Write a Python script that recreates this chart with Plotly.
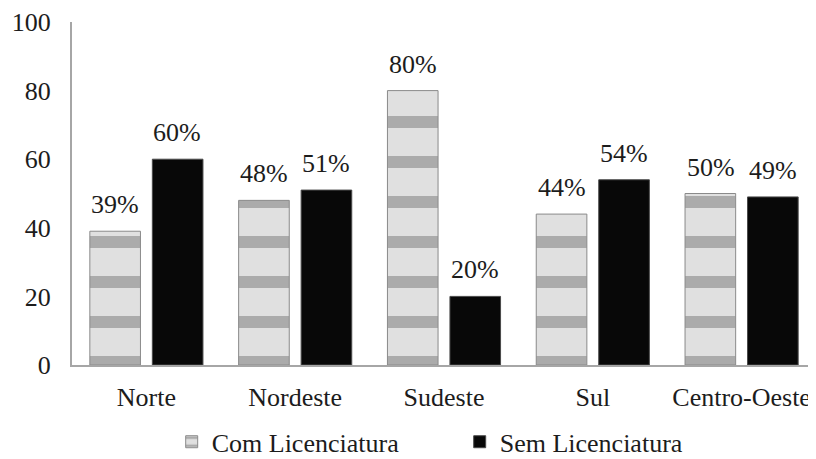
import plotly.graph_objects as go

regioes = ["Norte", "Nordeste", "Sudeste", "Sul", "Centro-Oeste"]
com_licenciatura = [39, 48, 80, 44, 50]
sem_licenciatura = [60, 51, 20, 54, 49]
y_ticks = [0, 20, 40, 60, 80, 100]
series_names = ["Com Licenciatura", "Sem Licenciatura"]

FONT = "Liberation Serif"
FS = 26
TXT = "#1c1c1c"

fig = go.Figure()
fig.add_trace(go.Bar(
    name=series_names[0], x=regioes, y=com_licenciatura,
    marker=dict(color="#d6d6d6", line=dict(color="#8a8a8a", width=1),
                pattern=dict(shape="-", fgcolor="#767676", bgcolor="#e0e0e0",
                             size=40, solidity=0.3, fillmode="overlay")),
))
fig.add_trace(go.Bar(
    name=series_names[1], x=regioes, y=sem_licenciatura,
    marker=dict(color="#080808", line=dict(color="#4a4a4a", width=1)),
))

# value labels above each bar (anchored at the data value)
for vals, shift in ((com_licenciatura, -31), (sem_licenciatura, 31)):
    for r, v in zip(regioes, vals):
        fig.add_annotation(x=r, y=v, text=f"{v}%", showarrow=False,
                           xshift=shift, yshift=10, yanchor="bottom",
                           font=dict(family=FONT, size=FS, color=TXT))

fig.update_layout(
    width=808, height=451,
    margin=dict(l=64, r=0, t=14, b=94, autoexpand=False),
    paper_bgcolor="white", plot_bgcolor="white",
    font=dict(family=FONT, size=FS, color=TXT),
    barmode="group", bargap=0.16, bargroupgap=0.19,
    showlegend=True,
    legend=dict(orientation="h", x=0.134, xanchor="left", y=-0.224, yanchor="middle",
                font=dict(size=FS, family=FONT, color=TXT), itemwidth=30,
                traceorder="normal", entrywidthmode="pixels", entrywidth=243),
    xaxis=dict(showline=True, linecolor="#a6a6a6", linewidth=2, ticks="",
               tickfont=dict(size=FS, family=FONT, color=TXT), showgrid=False,
               automargin=False, ticklabelstandoff=8),
    yaxis=dict(range=[0, 100], tickvals=y_ticks, showline=True, linecolor="#a6a6a6",
               linewidth=2, ticks="", showgrid=False, zeroline=False, automargin=False,
               tickfont=dict(size=FS, family=FONT, color=TXT), ticklabelstandoff=14,
               ticklabeloverflow="allow"),
)

fig.write_html("out.html")
